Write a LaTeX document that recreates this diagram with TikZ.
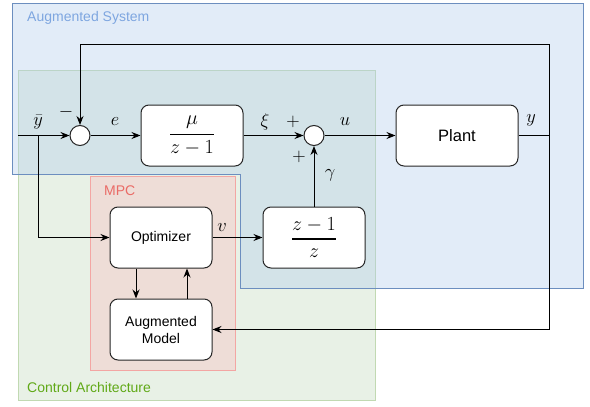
\documentclass[tikz,border=0pt]{standalone}
\usepackage{fix-cm}
\usepackage{amsmath}
\usepackage{fontspec}
\setmainfont{Liberation Sans}
\usetikzlibrary{arrows.meta}
\definecolor{sysfill}{RGB}{177,204,236}
\definecolor{sysline}{HTML}{6C8EBF}
\definecolor{systext}{HTML}{7EA6E0}
\definecolor{ctrlfill}{RGB}{232,241,230}
\definecolor{ctrlline}{HTML}{82B366}
\definecolor{ctrltext}{HTML}{60A917}
\definecolor{mpcfill}{RGB}{245,203,202}
\definecolor{mpcline}{HTML}{EA6B66}
\newcommand\tf[2]{\genfrac{}{}{1.6pt}{0}{#1}{#2}}

\tikzset{
  block/.style={draw=black!85, line width=1pt, fill=white, rounded corners=8pt,
    minimum width=102pt, minimum height=61pt, align=center,
    font=\fontsize{14}{17}\selectfont},
  sumnode/.style={draw=black!85, line width=1pt, circle, fill=white,
    minimum size=20pt, inner sep=0pt},
  sig/.style={inner sep=0pt, font=\fontsize{18.5}{22}\selectfont},
  region/.style={inner sep=0pt, anchor=west, font=\fontsize{14}{17}\selectfont},
  wire/.style={line width=1pt, -{Stealth[length=9pt,width=7pt]}},
}

\begin{document}
\begin{tikzpicture}[x=1pt, y=-1pt]

\useasboundingbox (0,0) rectangle (590,407);

% regions
\filldraw[ctrlline!50, fill=ctrlfill, line width=1pt] (18,70) rectangle (375,400);
\filldraw[sysline, fill=sysfill, fill opacity=.37, line width=1pt]
  (12,3) -- (583,3) -- (583,288) -- (240,288) -- (240,174) -- (12,174) -- cycle;
\filldraw[mpcline!60, fill=mpcfill, fill opacity=.5, line width=1pt] (90,176) rectangle (235,370);

\node[region, text=systext] (syslab) at (27,18) {Augmented System};
\node[region, text=mpcline] (mpclab) at (104,191) {MPC};
\node[region, text=ctrltext] (ctrllab) at (27,387) {Control Architecture};

% blocks
\node[sumnode] (sum1) at (80,135.5) {};
\node[block, font=\fontsize{20}{24}\selectfont] (intb) at (192,135.5) {$\tf{\mu}{z-1}$};
\node[sumnode] (sum2) at (314,135.5) {};
\node[block, minimum width=122pt, font=\fontsize{16.5}{20}\selectfont] (plant) at (457,135.5) {Plant};
\node[block, font=\fontsize{20}{24}\selectfont] (diffb) at (314,237.5) {$\tf{z-1}{z}$};
\node[block] (opt) at (161,237.5) {Optimizer};
\node[block] (augm) at (161,329.5) {Augmented\\Model};

\coordinate (ybin) at (18,135.5);
\coordinate (ybr) at (38,135.5);
\coordinate (yout) at (549,135.5);
\coordinate (fbtop) at (549,44);
\coordinate (fbbot) at (549,329.5);

% connectors
\draw[wire] (ybin) -- (sum1.west);
\draw[wire] (ybr) |- (opt.west);
\draw[wire] (sum1.east) -- (intb.west);
\draw[wire] (intb.east) -- (sum2.west);
\draw[wire] (sum2.east) -- (plant.west);
\draw[line width=1pt] (plant.east) -- (yout);
\draw[line width=1pt] (fbtop) -- (fbbot);
\draw[wire] (fbtop) -| (sum1.north);
\draw[wire] (fbbot) -- (augm.east);
\draw[wire] (opt.east) -- (diffb.west);
\draw[wire] (diffb.north) -- (sum2.south);
\draw[wire] ([xshift=-25pt]opt.south) -- ([xshift=-25pt]augm.north);
\draw[wire] ([xshift=26pt]augm.north) -- ([xshift=26pt]opt.south);

% labels
\node[sig] (ybarlab) at (38,122) {$\bar{y}$};
\node[sig] (minlab) at (66,112) {$-$};
\node[sig] (elab) at (115,122) {$e$};
\node[sig] (xilab) at (265,122) {$\xi$};
\node[sig] (pluslab) at (293,122) {$+$};
\node[sig] (plusblab) at (299,157) {$+$};
\node[sig] (ulab) at (345,122) {$u$};
\node[sig] (ylab) at (531,120) {$y$};
\node[sig] (gamlab) at (330,175) {$\gamma$};
\node[sig] (vlab) at (222,228) {$v$};

\end{tikzpicture}
\end{document}
